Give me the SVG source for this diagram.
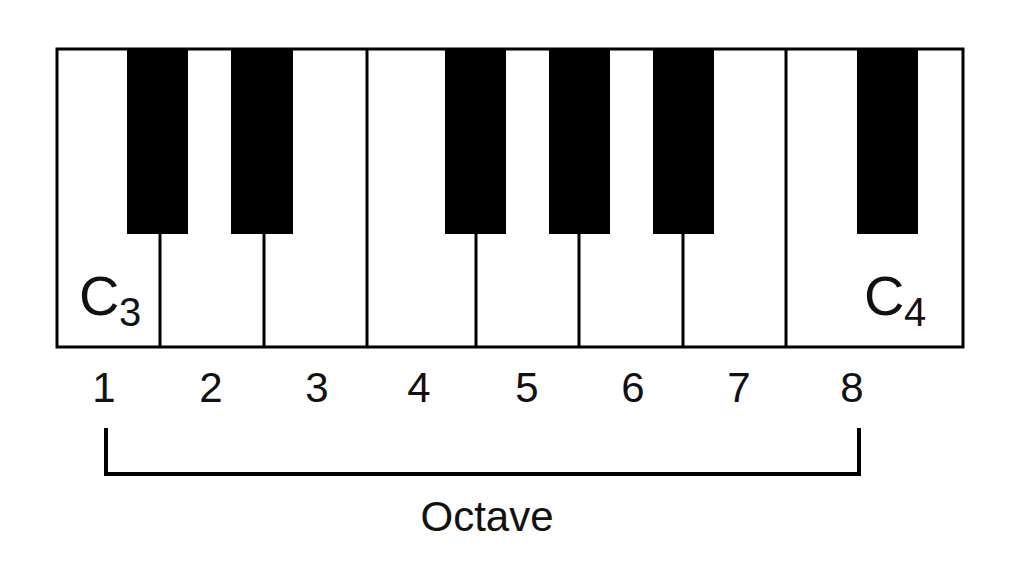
<svg xmlns="http://www.w3.org/2000/svg" width="1024" height="570" viewBox="0 0 1024 570">
  <style>
    .frame { fill: #ffffff; stroke: #000000; stroke-width: 3; }
    .div { stroke: #000000; stroke-width: 3; fill: none; }
    .black { fill: #000000; }
    .lbl { font-family: "Liberation Sans", Arial, sans-serif; fill: #111111; }
    .num { font-family: "Liberation Sans", Arial, sans-serif; font-size: 42px; fill: #111111; text-anchor: middle; }
    .bracket { stroke: #000000; stroke-width: 4; fill: none; }
  </style>
  <rect width="1024" height="570" fill="#ffffff"/>
  <g id="keyboard">
    <rect class="frame" x="57" y="49" width="906" height="298"/>
    <g id="dividers">
      <line class="div" x1="160" y1="234" x2="160" y2="347"/>
      <line class="div" x1="264" y1="234" x2="264" y2="347"/>
      <line class="div" x1="367" y1="49" x2="367" y2="347"/>
      <line class="div" x1="476" y1="234" x2="476" y2="347"/>
      <line class="div" x1="579" y1="234" x2="579" y2="347"/>
      <line class="div" x1="683" y1="234" x2="683" y2="347"/>
      <line class="div" x1="786" y1="49" x2="786" y2="347"/>
    </g>
    <g id="black-keys">
      <rect class="black" x="127" y="49" width="61" height="185"/>
      <rect class="black" x="231" y="49" width="62" height="185"/>
      <rect class="black" x="445" y="49" width="61" height="185"/>
      <rect class="black" x="549" y="49" width="61" height="185"/>
      <rect class="black" x="653" y="49" width="61" height="185"/>
      <rect class="black" x="857" y="49" width="61" height="185"/>
    </g>
  </g>
  <g id="c3-label">
    <text class="lbl" x="79" y="315" font-size="56">C</text>
    <text class="lbl" x="119" y="326" font-size="40">3</text>
  </g>
  <g id="c4-label">
    <text class="lbl" x="864" y="315" font-size="56">C</text>
    <text class="lbl" x="904" y="326" font-size="40">4</text>
  </g>
  <g id="numbers">
    <text class="num" x="104" y="402">1</text>
    <text class="num" x="211" y="402">2</text>
    <text class="num" x="317" y="402">3</text>
    <text class="num" x="419" y="402">4</text>
    <text class="num" x="527" y="402">5</text>
    <text class="num" x="633" y="402">6</text>
    <text class="num" x="739" y="402">7</text>
    <text class="num" x="852" y="402">8</text>
  </g>
  <g id="connectors">
    <path class="bracket" d="M106 428 V474 H859 V428"/>
  </g>
  <g id="octave-label">
    <text class="lbl" x="487" y="531" font-size="42" text-anchor="middle">Octave</text>
  </g>
</svg>
